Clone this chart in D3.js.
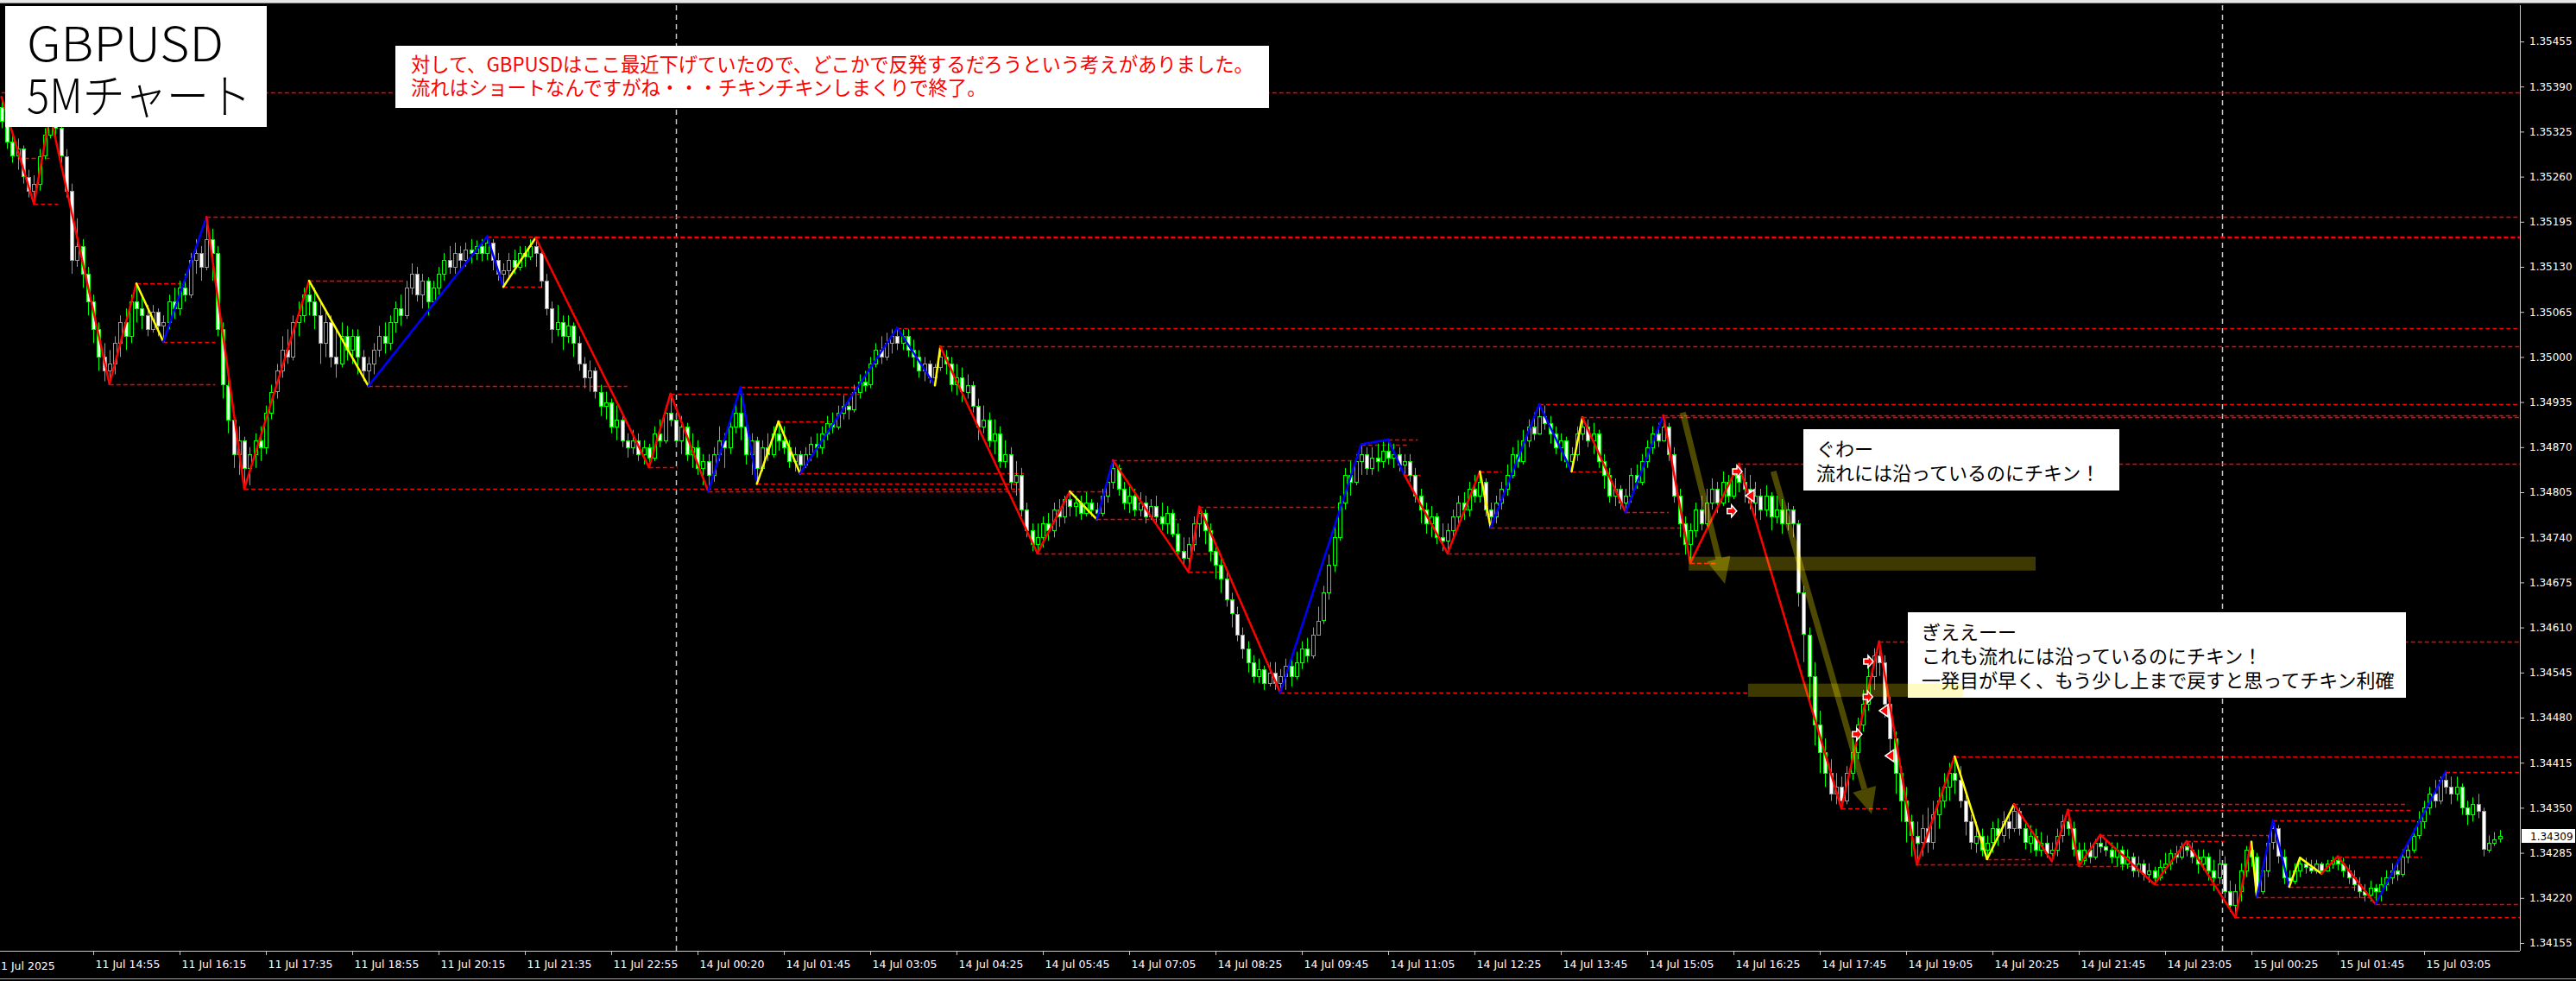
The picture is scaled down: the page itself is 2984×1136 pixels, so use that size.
<!DOCTYPE html>
<html><head><meta charset="utf-8">
<script src="https://cdn.jsdelivr.net/npm/d3@7"></script>
<style>body{margin:0;background:#000;overflow:hidden}svg{display:block}</style>
</head><body><svg id="c" width="2984" height="1136"></svg>
<script>
// prices stored as points above 1.34000 (1 point = 0.00001)
const BASE = 1.34, PT = 0.00001;
const firstOpen = 1360;
const closes = [1340,1310,1290,1300,1260,1240,1250,1290,1320,1340,
1330,1290,1240,1140,1160,1120,1080,1040,1000,980,
990,1020,1050,1030,1080,1070,1060,1040,1065,1045,
1050,1080,1070,1100,1090,1140,1150,1130,1170,1150,
1040,960,910,860,880,840,860,880,870,920,
950,980,1010,1000,1050,1060,1090,1080,1060,1020,
1050,1000,990,1030,1010,1030,1000,980,990,1010,
1030,1020,1050,1070,1060,1100,1120,1090,1110,1080,
1100,1120,1140,1130,1150,1140,1155,1150,1160,1150,
1165,1140,1120,1125,1140,1130,1150,1145,1160,1150,
1110,1070,1040,1050,1030,1045,1020,990,970,980,
950,930,935,900,910,880,870,880,860,870,
855,890,880,920,910,880,900,860,870,840,
850,830,860,880,870,900,920,900,860,880,
840,870,860,890,880,870,850,860,845,860,
875,870,890,905,900,920,930,925,950,965,
960,990,1010,1000,1020,1030,1020,1030,1010,1000,
980,990,970,985,1000,990,960,970,950,960,
930,900,910,880,890,850,860,820,830,780,
750,730,740,760,750,780,770,795,785,790,
775,790,780,775,800,820,840,810,790,800,
780,790,770,785,770,760,775,745,720,710,
730,760,775,750,720,700,680,650,630,600,
580,560,540,550,530,545,530,540,555,540,
560,580,570,600,620,660,700,740,790,830,
820,850,860,840,855,850,865,855,860,845,
850,830,800,780,760,770,740,735,750,770,
790,780,810,800,820,780,770,790,810,830,
860,850,880,900,890,915,905,890,870,880,
850,860,890,900,880,890,850,830,800,810,
790,800,830,820,850,870,890,880,900,860,
800,760,730,750,780,760,790,810,790,820,
800,830,820,810,790,800,780,800,770,780,
760,780,760,660,600,540,470,430,400,370,
380,360,400,430,470,500,540,570,560,500,
450,400,360,330,310,300,320,300,340,360,
380,400,390,360,330,300,310,290,300,320,
310,330,320,345,320,300,310,290,300,285,
290,310,330,320,290,275,290,280,300,295,
290,280,290,270,280,260,270,255,260,250,
265,270,285,280,295,290,280,270,280,260,
250,270,230,210,230,260,290,280,230,260,
300,320,280,250,245,260,270,265,260,270,
260,270,275,270,260,250,240,230,225,235,
230,240,250,260,255,280,290,310,330,350,
370,360,390,380,370,380,350,340,355,345,
290,300,305,309];
const highs = [1375,1345,1320,1315,1305,1270,1262,1300,1330,1350,
1348,1335,1300,1250,1200,1170,1130,1090,1050,1020,
1010,1030,1060,1070,1090,1106,1090,1075,1075,1070,
1060,1090,1100,1110,1120,1150,1170,1160,1202,1185,
1160,1050,980,920,900,885,870,890,900,930,
960,990,1030,1040,1060,1080,1100,1110,1100,1080,
1070,1060,1040,1050,1045,1040,1040,1010,1000,1020,
1045,1050,1060,1080,1090,1110,1135,1130,1120,1115,
1110,1130,1150,1160,1165,1160,1165,1170,1168,1170,
1174,1170,1150,1135,1150,1155,1160,1160,1170,1172,
1155,1120,1080,1075,1060,1060,1050,1030,1000,995,
985,960,950,940,930,920,890,895,890,880,
875,900,910,930,947,920,915,905,890,880,
860,860,870,900,890,910,935,957,910,890,
885,880,890,900,907,900,880,870,865,870,
885,890,900,915,920,930,945,940,960,975,
980,1000,1020,1030,1035,1040,1042,1040,1040,1025,
1010,1000,995,990,1015,1010,1000,990,985,975,
965,940,930,920,910,900,880,870,850,840,
790,760,760,770,775,790,795,800,806,800,
800,805,795,790,810,830,851,845,820,815,
810,805,800,795,800,790,785,780,760,740,
740,770,784,780,760,730,710,690,660,640,
610,590,570,565,555,560,560,550,565,570,
575,590,595,610,640,670,715,760,800,840,
850,860,874,870,870,875,878,881,875,870,
860,860,840,810,790,785,775,760,760,780,
800,805,820,830,835,825,790,800,820,845,
870,880,895,910,920,932,930,915,900,890,
885,870,900,913,910,905,895,860,840,825,
815,810,840,845,860,880,900,905,916,905,
870,810,770,760,790,800,810,825,820,835,
830,840,846,840,830,820,810,815,805,800,
795,790,785,765,670,610,560,490,450,420,
400,395,410,450,480,520,560,580,590,570,
510,460,410,380,340,330,340,350,360,380,
400,415,424,410,370,340,330,320,310,330,
335,345,340,355,350,330,325,320,315,310,
300,320,340,347,330,300,300,300,305,311,
305,300,300,295,290,285,280,275,270,265,
275,285,290,295,300,302,300,290,290,285,
275,290,280,245,240,270,295,301,285,270,
310,332,325,290,260,270,278,278,275,275,
272,275,280,280,278,268,260,250,240,245,
240,250,260,270,275,290,300,320,345,360,
380,390,395,402,395,395,385,360,365,370,
350,310,315,318];
const lows = [1330,1300,1280,1270,1250,1230,1221,1240,1285,1315,
1310,1280,1230,1120,1130,1100,1060,1020,980,965,
961,975,1000,1010,1020,1050,1040,1030,1035,1030,
1022,1040,1055,1060,1080,1085,1120,1110,1125,1110,
1030,940,890,840,830,810,815,840,850,860,
910,940,970,990,995,1030,1050,1060,1040,990,
1000,985,970,985,995,990,975,965,958,975,
1000,1005,1010,1035,1045,1055,1090,1080,1070,1060,
1075,1090,1110,1120,1120,1125,1130,1135,1140,1138,
1140,1125,1110,1101,1115,1120,1125,1130,1140,1130,
1100,1060,1020,1030,1010,1020,1000,980,955,950,
940,915,910,890,880,870,855,860,850,845,
841,850,870,875,900,870,860,850,840,830,
815,806,820,850,840,860,890,880,845,830,
817,835,850,855,865,860,840,835,832,840,
850,855,860,880,890,895,910,910,920,940,
950,955,985,990,995,1005,1010,1010,1000,985,
970,965,962,959,980,975,950,945,935,940,
920,880,890,870,860,840,840,810,800,770,
740,720,717,725,735,740,755,760,770,770,
765,770,770,766,770,790,810,800,780,775,
770,770,760,765,760,750,745,740,710,700,
690,720,740,730,705,680,660,640,610,590,
565,545,530,530,520,525,520,516,520,525,
535,550,560,565,600,615,650,690,735,780,
800,815,830,830,830,835,840,845,840,835,
830,820,790,760,745,740,730,720,717,735,
760,765,770,790,790,770,754,760,780,800,
825,840,845,870,880,890,895,875,860,850,
840,835,850,880,870,860,840,810,790,785,
780,776,790,810,815,840,860,870,880,850,
790,740,715,703,740,750,755,780,775,785,
790,795,805,790,780,770,765,770,750,760,
745,750,740,640,560,500,440,400,380,360,
355,349,355,390,420,460,490,520,540,480,
420,370,330,300,280,268,280,285,290,320,
350,360,370,350,310,290,285,280,276,285,
295,300,305,315,310,290,285,280,280,278,
273,280,300,310,280,266,268,270,275,285,
280,270,265,260,262,250,250,245,242,240,
245,255,260,270,275,280,270,255,260,245,
230,240,220,200,192,215,250,265,221,225,
250,290,270,240,236,240,250,255,255,255,
255,258,262,260,250,240,230,220,215,215,
211,215,230,240,245,250,270,285,305,320,
340,350,355,370,355,360,340,325,330,335,
280,285,295,300];

// zigzag pivots: bar index, price point, colour of the leg that ends at the pivot
const zzBar = [0,6,9,20,25,30,38,45,57,68,90,93,99,120,124,131,137,140,144,148,166,173,174,192,198,203,206,220,222,237,252,257,260,268,274,276,285,291,293,301,308,313,322,341,348,355,362,368,373,380,383,385,389,399,405,414,417,418,421,424,426,430,433,440,453];
const zzVal = [1375,1221,1350,961,1106,1022,1202,810,1110,958,1174,1101,1172,841,947,806,957,817,907,832,1042,959,1015,717,806,766,851,690,784,516,874,881,830,717,835,754,932,835,913,776,916,703,846,349,590,268,424,276,355,273,347,266,311,240,302,192,301,221,332,236,278,255,280,211,402];
const zzLeg = ["","r","r","r","r","y","b","r","r","y","b","b","y","r","r","r","b","b","y","y","b","b","y","r","r","y","b","r","r","r","b","b","b","r","r","y","b","b","y","r","b","r","r","r","r","r","r","y","y","r","r","r","r","r","r","r","r","y","b","b","y","y","r","r","b"];

// support / resistance dashes: start bar, end bar (-1 = to the price scale), level
const hlStart = [0,3,6,20,25,30,38,45,57,68,90,93,99,120,124,131,137,140,144,148,166,174,192,198,203,206,220,222,237,252,257,260,268,274,276,285,291,293,301,308,313,322,341,348,355,362,368,373,383,385,389,399,405,414,418,421,424,433,440,453];
const hlEnd = [-1,9,10.5,39.6,33.3,39.6,-1,189.5,74.8,116,-1,100.7,-1,125.3,159,189.5,159,189.5,153.5,189.5,-1,-1,226.3,204.8,218.6,251,226.3,248,324,261,262.5,263,311.6,278,311.6,-1,297,-1,309,-1,318,-1,350,-1,386,-1,376,446,447,395,421.8,411,412,-1,440,448.5,437,448.5,-1,-1];
const hlLevel = [1382,1287,1221,961,1106,1022,1202,810,1110,958,1174,1101,1172,841,947,806,957,817,907,832,1042,1015,717,806,766,851,690,784,516,874,881,830,717,835,754,932,835,913,776,916,703,846,349,590,268,424,276,355,347,266,311,240,302,192,221,332,236,280,211,402];

// trade markers
const mkBar = [321.8,320.8,324.2,346.1,346,344,349,350.1];
const mkVal = [835,778,800,561,510,456,490,425];
const mkType = ["in","in","out","in","in","in","out","out"];

// day separators (bar positions of 14 Jul 00:00 and 15 Jul 00:00)
const daySep = [125, 411.6];

// price scale ticks and time labels
const priceTicks = [1.35455,1.35390,1.35325,1.35260,1.35195,1.35130,1.35065,1.35000,1.34935,1.34870,1.34805,1.34740,1.34675,1.34610,1.34545,1.34480,1.34415,1.34350,1.34285,1.34220,1.34155];
const firstLabel = "11 Jul 2025";
const timeLabels = ["11 Jul 14:55","11 Jul 16:15","11 Jul 17:35","11 Jul 18:55","11 Jul 20:15","11 Jul 21:35","11 Jul 22:55","14 Jul 00:20","14 Jul 01:45","14 Jul 03:05","14 Jul 04:25","14 Jul 05:45","14 Jul 07:05","14 Jul 08:25","14 Jul 09:45","14 Jul 11:05","14 Jul 12:25","14 Jul 13:45","14 Jul 15:05","14 Jul 16:25","14 Jul 17:45","14 Jul 19:05","14 Jul 20:25","14 Jul 21:45","14 Jul 23:05","15 Jul 00:25","15 Jul 01:45","15 Jul 03:05"];
const lastPrice = 1.34309;

// highlight zones [bar0, bar1, lowVal, highVal] and arrows [bar0,val0,bar1,val1]
const zoneB0 = [312.7, 323.7], zoneB1 = [377, 363.6], zoneLo = [692, 510], zoneHi = [712, 529];
const arrB0 = [311.6, 328.4], arrV0 = [920, 835], arrB1 = [319.4, 346.6], arrV1 = [673, 341];

const P = v => BASE + v * PT;
const W = 2984, H = 1136, plotR = 2919, plotT = 6, plotB = 1101;
const svg = d3.select('#c');
svg.append('rect').attr('width', W).attr('height', H).attr('fill', '#000');
svg.append('defs').append('clipPath').attr('id', 'plot').append('rect')
  .attr('x', 0).attr('y', plotT).attr('width', plotR).attr('height', plotB - plotT);

const x = d3.scaleLinear().domain([0, 1]).range([1.75, 8]);
const y = d3.scaleLinear().domain([1.34155, 1.35455]).range([1092, 48]);
const colMap = {r: '#ff0000', b: '#0000ff', y: '#ffff00'};

const plot = svg.append('g').attr('clip-path', 'url(#plot)');

// day separators
plot.selectAll('line.sep').data(daySep).join('line').attr('class', 'sep')
  .attr('x1', d => Math.round(x(d)) + 0.5).attr('x2', d => Math.round(x(d)) + 0.5)
  .attr('y1', plotT).attr('y2', plotB)
  .attr('stroke', '#c8c8c8').attr('stroke-width', 1.5).attr('stroke-dasharray', '6,5');

// dashed levels
plot.selectAll('line.lvl').data(hlLevel.map((v, i) => ({s: hlStart[i], e: hlEnd[i], v})))
  .join('line').attr('class', 'lvl')
  .attr('x1', d => x(d.s)).attr('x2', d => d.e < 0 ? plotR : x(d.e))
  .attr('y1', d => Math.round(y(P(d.v))) + 0.5).attr('y2', d => Math.round(y(P(d.v))) + 0.5)
  .attr('stroke', '#ff0000').attr('stroke-width', 1.6).attr('stroke-dasharray', '5,3');

// candles
const bars = closes.map((c, i) => {
  const o = i ? closes[i - 1] : firstOpen;
  return {i, o, c, h: Math.max(highs[i], o, c), l: Math.min(lows[i], o, c)};
});
const cg = plot.append('g');
cg.selectAll('line.wick').data(bars).join('line').attr('class', 'wick')
  .attr('x1', d => Math.round(x(d.i)) + 0.5).attr('x2', d => Math.round(x(d.i)) + 0.5)
  .attr('y1', d => y(P(d.h))).attr('y2', d => y(P(d.l)))
  .attr('stroke', '#00ff00').attr('stroke-width', 1);
cg.selectAll('rect.body').data(bars).join('rect').attr('class', 'body')
  .attr('x', d => Math.round(x(d.i)) - 1.5).attr('width', 4)
  .attr('y', d => Math.round(y(P(Math.max(d.o, d.c)))) + 0.5)
  .attr('height', d => Math.max(1, Math.round(Math.abs(y(P(d.o)) - y(P(d.c))))))
  .attr('fill', d => d.c < d.o ? '#ffffff' : '#000000')
  .attr('stroke', '#00ff00').attr('stroke-width', 1);

// zigzag legs
const legs = zzBar.slice(1).map((b, k) => ({a: zzBar[k], av: zzVal[k], b, bv: zzVal[k + 1], col: zzLeg[k + 1]}));
plot.selectAll('line.zz').data(legs).join('line').attr('class', 'zz')
  .attr('x1', d => x(d.a)).attr('y1', d => y(P(d.av)))
  .attr('x2', d => x(d.b)).attr('y2', d => y(P(d.bv)))
  .attr('stroke', d => colMap[d.col]).attr('stroke-width', 2.5).attr('stroke-linecap', 'round');

// price axis
const pa = svg.append('g').attr('transform', `translate(${plotR},0)`)
  .call(d3.axisRight(y).tickValues(priceTicks).tickFormat(d3.format('.5f')).tickSize(5).tickPadding(6));
pa.select('.domain').attr('stroke', '#c8c8c8').attr('d', `M0.5,${plotT}V${plotB}`);
pa.selectAll('.tick line').attr('stroke', '#c8c8c8');
pa.selectAll('.tick text').attr('fill', '#ffffff').style('font', '12px "DejaVu Sans"');

// time axis
const ticksIdx = timeLabels.map((_, k) => 17 + 16 * k);
const ta = svg.append('g').attr('transform', `translate(0,${plotB})`)
  .call(d3.axisBottom(x).tickValues(ticksIdx).tickFormat((d, k) => timeLabels[k]).tickSize(5).tickPadding(6));
ta.select('.domain').attr('stroke', '#c8c8c8').attr('d', `M0,0.5H${plotR}`);
ta.selectAll('.tick line').attr('stroke', '#c8c8c8');
ta.selectAll('.tick text').attr('fill', '#ffffff').attr('text-anchor', 'start').attr('dx', 2)
  .style('font', '12.5px "DejaVu Sans"');
svg.append('text').attr('x', -7).attr('y', plotB + 22).text(firstLabel)
  .attr('fill', '#ffffff').style('font', '12.5px "DejaVu Sans"');

// window borders
svg.append('rect').attr('x', 0).attr('y', 0).attr('width', W).attr('height', 3).attr('fill', '#e8e8e8');
svg.append('line').attr('x1', 0).attr('x2', W).attr('y1', 3.5).attr('y2', 3.5).attr('stroke', '#909090');
svg.append('line').attr('x1', 0).attr('x2', W).attr('y1', 1133.5).attr('y2', 1133.5).attr('stroke', '#a0a0a0');

// current price tag
const lp = svg.append('g').attr('transform', `translate(${plotR + 2},${Math.round(y(lastPrice))})`);
lp.append('rect').attr('x', 0).attr('y', -8).attr('width', 62).attr('height', 16).attr('fill', '#fff');
lp.append('text').attr('x', 10).attr('y', 4.5).text(d3.format('.5f')(lastPrice))
  .attr('fill', '#000').style('font', '12px "DejaVu Sans"');

// annotation boxes
const jp = '"Noto Sans CJK JP","Noto Sans",sans-serif';
function box(bx, by, bw, bh) {
  svg.append('rect').attr('x', bx).attr('y', by).attr('width', bw).attr('height', bh).attr('fill', '#fff');
}
box(6, 7, 303, 140);
const title = svg.append('text').attr('fill', '#000').style('font', `300 55px ${jp}`);
title.append('tspan').attr('x', 31).attr('y', 71).attr('textLength', 228).attr('lengthAdjust', 'spacingAndGlyphs').text('GBPUSD');
title.append('tspan').attr('x', 31).attr('y', 131).attr('textLength', 260).attr('lengthAdjust', 'spacingAndGlyphs').text('5Mチャート');

box(458, 53, 1012, 72);
const redLines = ['対して、GBPUSDはここ最近下げていたので、どこかで反発するだろうという考えがありました。', '流れはショートなんですがね・・・チキンチキンしまくりで終了。'];
redLines.forEach((t, k) => svg.append('text').attr('x', 476).attr('y', 83 + k * 27).text(t)
  .attr('fill', '#ff0000').style('font', `22.3px ${jp}`));

box(2089, 497, 366, 71);
['ぐわー', '流れには沿っているのにチキン！'].forEach((t, k) => svg.append('text')
  .attr('x', 2104).attr('y', 528 + k * 28).text(t).attr('fill', '#000').style('font', `22px ${jp}`));

box(2210, 709, 577, 99);
['ぎええーー', 'これも流れには沿っているのにチキン！', '一発目が早く、もう少し上まで戻すと思ってチキン利確'].forEach((t, k) => svg.append('text')
  .attr('x', 2226).attr('y', 740 + k * 28).text(t).attr('fill', '#000').style('font', `22px ${jp}`));

// highlight zones
const ov = svg.append('g').attr('clip-path', 'url(#plot)');
zoneB0.forEach((b0, k) => ov.append('rect')
  .attr('x', x(b0)).attr('width', x(zoneB1[k]) - x(b0))
  .attr('y', y(P(zoneHi[k]))).attr('height', y(P(zoneLo[k])) - y(P(zoneHi[k])))
  .attr('fill', '#fff000').attr('opacity', 0.24));

// olive arrows
arrB0.forEach((b0, k) => {
  const x0 = x(b0), y0 = y(P(arrV0[k])), x1 = x(arrB1[k]), y1 = y(P(arrV1[k]));
  const dx = x1 - x0, dy = y1 - y0, L = Math.hypot(dx, dy), ux = dx / L, uy = dy / L;
  const hl = 30, hw = 14, bx = x1 - ux * hl, by = y1 - uy * hl;
  ov.append('line').attr('x1', x0).attr('y1', y0).attr('x2', bx).attr('y2', by)
    .attr('stroke', '#fff000').attr('stroke-width', 7).attr('opacity', 0.3);
  ov.append('path').attr('d', `M${x1},${y1}L${bx - uy * hw},${by + ux * hw}L${bx + uy * hw},${by - ux * hw}Z`)
    .attr('fill', '#fff000').attr('opacity', 0.3);
});

// trade markers
mkBar.forEach((b, k) => {
  const cx = x(b), cy = y(P(mkVal[k]));
  const d = mkType[k] === 'in'
    ? `M${cx - 6},${cy - 3}h5v-4l6,7l-6,7v-4h-5z`
    : `M${cx - 6},${cy}l10,-7v14z`;
  ov.append('path').attr('d', d).attr('fill', '#ff0000').attr('stroke', '#ffffff').attr('stroke-width', 1.5);
});
</script>
</body></html>
